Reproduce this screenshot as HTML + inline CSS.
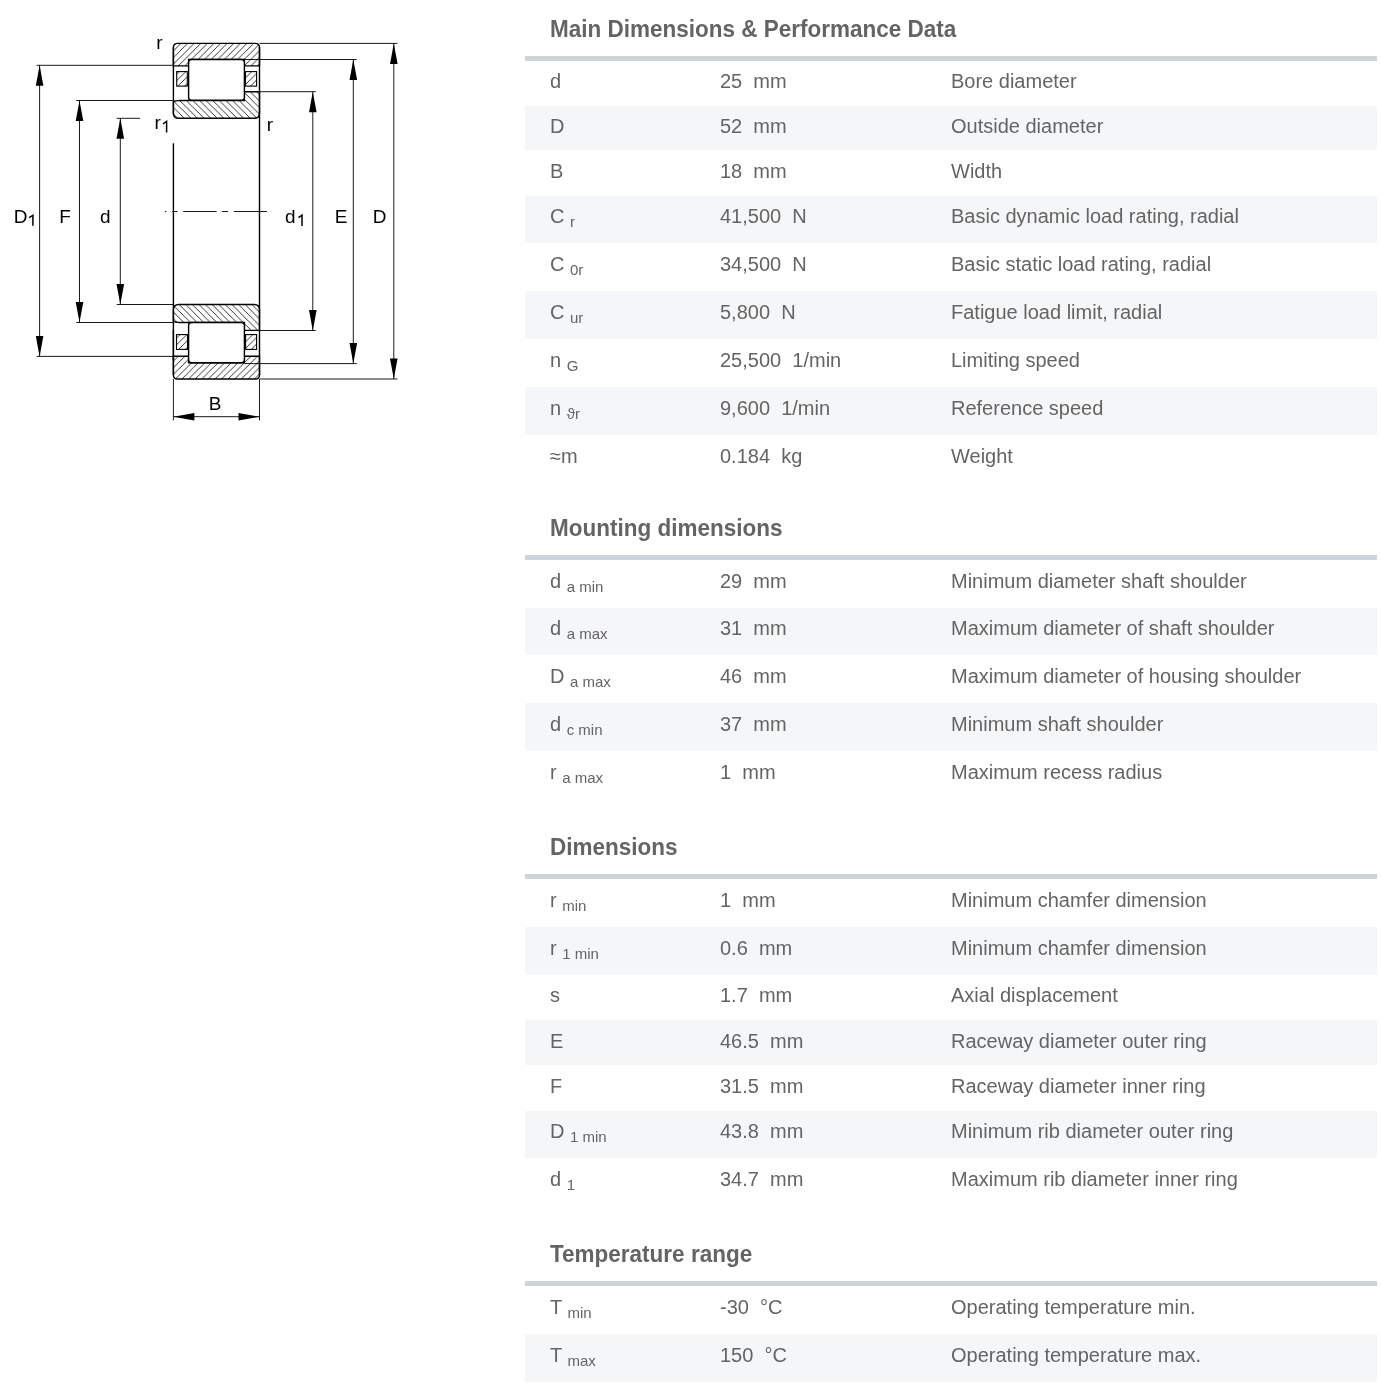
<!DOCTYPE html>
<html><head><meta charset="utf-8"><title>Bearing data</title>
<style>
html,body{margin:0;padding:0;background:#fff;}
body{width:1381px;height:1385px;position:relative;overflow:hidden;font-family:"Liberation Sans",sans-serif;}
.t{will-change:transform;position:absolute;left:549.6px;font-size:22.5px;line-height:22.5px;font-weight:bold;color:#646464;white-space:nowrap;transform:scaleY(1.05);transform-origin:0 19.05px;}
.hl{position:absolute;left:525px;width:852px;background:#cdd3da;}
.band{position:absolute;left:525px;width:852px;background:#f5f6f8;}
.c{will-change:transform;position:absolute;font-size:20px;line-height:20px;color:#646464;white-space:nowrap;}
.sb{font-size:15px;position:relative;top:4px;}
svg{position:absolute;left:0;top:0;will-change:transform;}
</style></head><body>
<svg width="460" height="440" viewBox="0 0 460 440">
<defs>
<pattern id="hf" patternUnits="userSpaceOnUse" width="6.6" height="6.6">
<path d="M-1,1 L1,-1 M0,6.6 L6.6,0 M5.6,7.6 L7.6,5.6" stroke="#000" stroke-width="0.8"/></pattern>
<pattern id="hb" patternUnits="userSpaceOnUse" width="6.6" height="6.6">
<path d="M-1,5.6 L1,7.6 M0,0 L6.6,6.6 M5.6,-1 L7.6,1" stroke="#000" stroke-width="0.8"/></pattern>
</defs>
<path d="M173.4,65.9 V47.6 Q173.4,43.4 177.6,43.4 H255.3 Q259.5,43.4 259.5,47.6 V65.9 H244.4 V59.5 H188.6 V65.9 Z" fill="url(#hf)" stroke="#000" stroke-width="1.4"/>
<path d="M173.4,102.2 Q174.6,100.5 180,100.5 H244.4 V91.7 H259.5 V113 Q259.5,118.3 254.2,118.3 H178.7 Q173.4,118.3 173.4,113 Z" fill="url(#hb)" stroke="#000" stroke-width="1.4"/>
<rect x="188.6" y="59.5" width="55.8" height="40.8" rx="3" fill="#fff" stroke="#000" stroke-width="1.4"/>
<rect x="176.7" y="71.6" width="10.6" height="14.5" fill="url(#hf)" stroke="#000" stroke-width="1.1"/>
<rect x="245.5" y="71.6" width="11.1" height="14.5" fill="url(#hf)" stroke="#000" stroke-width="1.1"/>
<path d="M173.4,320.8 Q174.6,322.5 180,322.5 H244.4 V330.4 H259.5 V309.8 Q259.5,304.5 254.3,304.5 H178.7 Q173.4,304.5 173.4,309.8 Z" fill="url(#hb)" stroke="#000" stroke-width="1.4"/>
<path d="M173.4,356.2 H188.6 V362.7 H244.4 V356.2 H259.5 V374.9 Q259.5,379 255.4,379 H177.5 Q173.4,379 173.4,374.9 Z" fill="url(#hf)" stroke="#000" stroke-width="1.4"/>
<rect x="188.6" y="322.5" width="55.8" height="40.2" rx="3" fill="#fff" stroke="#000" stroke-width="1.4"/>
<rect x="176.5" y="334.6" width="11" height="14.8" fill="url(#hf)" stroke="#000" stroke-width="1.1"/>
<rect x="245.6" y="334.6" width="11" height="14.8" fill="url(#hf)" stroke="#000" stroke-width="1.1"/>
<g stroke="#000" stroke-width="1.4" fill="none">
<line x1="173.4" y1="47" x2="173.4" y2="114.6"/>
<line x1="259.5" y1="47" x2="259.5" y2="374.9"/>
<line x1="173.4" y1="143.3" x2="173.4" y2="374.9"/>
<line x1="173.4" y1="330" x2="173.4" y2="360"/>
</g>
<path d="M36.6,65.3 H173.4 M76.3,100.5 H173.4 M116.7,118.3 H140 M259.5,43.4 H397.5 M244.4,59.5 H356.7 M259.5,91.7 H315.8 M36.6,356.4 H173.4 M76.3,322.5 H173.4 M116.7,304.5 H173.4 M259.5,379 H397.5 M244.4,363.6 H356.7 M259.5,330.5 H315.8 M39.6,65.3 V356.4 M79.5,100.5 V322.5 M120.3,118.3 V304.5 M312.8,91.7 V330.5 M353.3,59.5 V363.6 M393.8,43.4 V379 M173.4,379 V420.3 M259.5,379 V420.3 M173.4,416.7 H259.5 M164.9,211.5 H166.3 M172.4,211.5 H177.6 M183.2,211.5 H216.7 M222,211.5 H228 M233.9,211.5 H267" stroke="#000" stroke-width="0.9" fill="none"/>
<g fill="#000">
<path d="M39.6,65.3 L35.800000000000004,85.8 L43.4,85.8 Z"/>
<path d="M39.6,356.4 L35.800000000000004,335.9 L43.4,335.9 Z"/>
<path d="M79.5,100.5 L75.7,121.0 L83.3,121.0 Z"/>
<path d="M79.5,322.5 L75.7,302.0 L83.3,302.0 Z"/>
<path d="M120.3,118.3 L116.5,138.8 L124.1,138.8 Z"/>
<path d="M120.3,304.5 L116.5,284.0 L124.1,284.0 Z"/>
<path d="M312.8,91.7 L309.0,112.2 L316.6,112.2 Z"/>
<path d="M312.8,330.5 L309.0,310.0 L316.6,310.0 Z"/>
<path d="M353.3,59.5 L349.5,80.0 L357.1,80.0 Z"/>
<path d="M353.3,363.6 L349.5,343.1 L357.1,343.1 Z"/>
<path d="M393.8,43.4 L390.0,63.9 L397.6,63.9 Z"/>
<path d="M393.8,379 L390.0,358.5 L397.6,358.5 Z"/>
<path d="M173.4,416.7 L194.4,412.9 L194.4,420.5 Z"/>
<path d="M259.5,416.7 L238.5,412.9 L238.5,420.5 Z"/>
</g>
<g font-family="Liberation Sans" font-size="19" fill="#000">
<text x="156.2" y="49.2">r</text>
<text x="154.5" y="129.2">r</text>
<text x="266.7" y="130.8">r</text>
<text x="13.7" y="222.8">D</text>
<text x="59.2" y="222.8">F</text>
<text x="100.1" y="222.8">d</text>
<text x="285.1" y="222.8">d</text>
<text x="334.8" y="222.8">E</text>
<text x="372.7" y="222.8">D</text>
<text x="208.8" y="409.7">B</text>
</g>
<path d="M32.9,225.8 V215.4 L29.1,217.6 M302.0,225.9 V215.2 L298.5,217.6 M166.6,132.6 V121.5 L163.0,123.9" stroke="#000" stroke-width="1.5" fill="none"/>
</svg>
<div class="t" style="top:18.95px">Main Dimensions &amp; Performance Data</div>
<div class="hl" style="top:56.0px;height:4.70px"></div>
<div class="c" style="top:71.27px;left:550px">d</div>
<div class="c" style="top:71.27px;left:720px">25&nbsp;&nbsp;mm</div>
<div class="c" style="top:71.27px;left:951.0px">Bore diameter</div>
<div class="band" style="top:105.6px;height:44.80px"></div>
<div class="c" style="top:116.17px;left:550px">D</div>
<div class="c" style="top:116.17px;left:720px">52&nbsp;&nbsp;mm</div>
<div class="c" style="top:116.17px;left:951.0px">Outside diameter</div>
<div class="c" style="top:160.97px;left:550px">B</div>
<div class="c" style="top:160.97px;left:720px">18&nbsp;&nbsp;mm</div>
<div class="c" style="top:160.97px;left:951.0px">Width</div>
<div class="band" style="top:195.9px;height:47.20px"></div>
<div class="c" style="top:206.47px;left:550px">C <span class="sb">r</span></div>
<div class="c" style="top:206.47px;left:720px">41,500&nbsp;&nbsp;N</div>
<div class="c" style="top:206.47px;left:951.0px">Basic dynamic load rating, radial</div>
<div class="c" style="top:253.67px;left:550px">C <span class="sb">0r</span></div>
<div class="c" style="top:253.67px;left:720px">34,500&nbsp;&nbsp;N</div>
<div class="c" style="top:253.67px;left:951.0px">Basic static load rating, radial</div>
<div class="band" style="top:291.3px;height:48.10px"></div>
<div class="c" style="top:301.87px;left:550px">C <span class="sb">ur</span></div>
<div class="c" style="top:301.87px;left:720px">5,800&nbsp;&nbsp;N</div>
<div class="c" style="top:301.87px;left:951.0px">Fatigue load limit, radial</div>
<div class="c" style="top:349.97px;left:550px">n <span class="sb">G</span></div>
<div class="c" style="top:349.97px;left:720px">25,500&nbsp;&nbsp;1/min</div>
<div class="c" style="top:349.97px;left:951.0px">Limiting speed</div>
<div class="band" style="top:387.4px;height:47.60px"></div>
<div class="c" style="top:397.97px;left:550px">n <span class="sb">&#977;r</span></div>
<div class="c" style="top:397.97px;left:720px">9,600&nbsp;&nbsp;1/min</div>
<div class="c" style="top:397.97px;left:951.0px">Reference speed</div>
<div class="c" style="top:445.57px;left:550px">&#8776;m</div>
<div class="c" style="top:445.57px;left:720px">0.184&nbsp;&nbsp;kg</div>
<div class="c" style="top:445.57px;left:951.0px">Weight</div>
<div class="t" style="top:517.95px">Mounting dimensions</div>
<div class="hl" style="top:555.0px;height:5.00px"></div>
<div class="c" style="top:570.57px;left:550px">d <span class="sb">a min</span></div>
<div class="c" style="top:570.57px;left:720px">29&nbsp;&nbsp;mm</div>
<div class="c" style="top:570.57px;left:951.0px">Minimum diameter shaft shoulder</div>
<div class="band" style="top:607.8px;height:47.50px"></div>
<div class="c" style="top:618.37px;left:550px">d <span class="sb">a max</span></div>
<div class="c" style="top:618.37px;left:720px">31&nbsp;&nbsp;mm</div>
<div class="c" style="top:618.37px;left:951.0px">Maximum diameter of shaft shoulder</div>
<div class="c" style="top:665.87px;left:550px">D <span class="sb">a max</span></div>
<div class="c" style="top:665.87px;left:720px">46&nbsp;&nbsp;mm</div>
<div class="c" style="top:665.87px;left:951.0px">Maximum diameter of housing shoulder</div>
<div class="band" style="top:703.3px;height:47.80px"></div>
<div class="c" style="top:713.87px;left:550px">d <span class="sb">c min</span></div>
<div class="c" style="top:713.87px;left:720px">37&nbsp;&nbsp;mm</div>
<div class="c" style="top:713.87px;left:951.0px">Minimum shaft shoulder</div>
<div class="c" style="top:761.67px;left:550px">r <span class="sb">a max</span></div>
<div class="c" style="top:761.67px;left:720px">1&nbsp;&nbsp;mm</div>
<div class="c" style="top:761.67px;left:951.0px">Maximum recess radius</div>
<div class="t" style="top:836.95px">Dimensions</div>
<div class="hl" style="top:874.0px;height:5.10px"></div>
<div class="c" style="top:889.67px;left:550px">r <span class="sb">min</span></div>
<div class="c" style="top:889.67px;left:720px">1&nbsp;&nbsp;mm</div>
<div class="c" style="top:889.67px;left:951.0px">Minimum chamfer dimension</div>
<div class="band" style="top:927.0px;height:47.50px"></div>
<div class="c" style="top:937.57px;left:550px">r <span class="sb">1 min</span></div>
<div class="c" style="top:937.57px;left:720px">0.6&nbsp;&nbsp;mm</div>
<div class="c" style="top:937.57px;left:951.0px">Minimum chamfer dimension</div>
<div class="c" style="top:985.07px;left:550px">s</div>
<div class="c" style="top:985.07px;left:720px">1.7&nbsp;&nbsp;mm</div>
<div class="c" style="top:985.07px;left:951.0px">Axial displacement</div>
<div class="band" style="top:1020.0px;height:45.00px"></div>
<div class="c" style="top:1030.57px;left:550px">E</div>
<div class="c" style="top:1030.57px;left:720px">46.5&nbsp;&nbsp;mm</div>
<div class="c" style="top:1030.57px;left:951.0px">Raceway diameter outer ring</div>
<div class="c" style="top:1075.57px;left:550px">F</div>
<div class="c" style="top:1075.57px;left:720px">31.5&nbsp;&nbsp;mm</div>
<div class="c" style="top:1075.57px;left:951.0px">Raceway diameter inner ring</div>
<div class="band" style="top:1110.5px;height:47.50px"></div>
<div class="c" style="top:1121.07px;left:550px">D <span class="sb">1 min</span></div>
<div class="c" style="top:1121.07px;left:720px">43.8&nbsp;&nbsp;mm</div>
<div class="c" style="top:1121.07px;left:951.0px">Minimum rib diameter outer ring</div>
<div class="c" style="top:1168.57px;left:550px">d <span class="sb">1</span></div>
<div class="c" style="top:1168.57px;left:720px">34.7&nbsp;&nbsp;mm</div>
<div class="c" style="top:1168.57px;left:951.0px">Maximum rib diameter inner ring</div>
<div class="t" style="top:1243.95px">Temperature range</div>
<div class="hl" style="top:1281.0px;height:5.00px"></div>
<div class="c" style="top:1296.57px;left:550px">T <span class="sb">min</span></div>
<div class="c" style="top:1296.57px;left:720px">-30&nbsp;&nbsp;&#176;C</div>
<div class="c" style="top:1296.57px;left:951.0px">Operating temperature min.</div>
<div class="band" style="top:1334.0px;height:47.50px"></div>
<div class="c" style="top:1344.57px;left:550px">T <span class="sb">max</span></div>
<div class="c" style="top:1344.57px;left:720px">150&nbsp;&nbsp;&#176;C</div>
<div class="c" style="top:1344.57px;left:951.0px">Operating temperature max.</div>
</body></html>
